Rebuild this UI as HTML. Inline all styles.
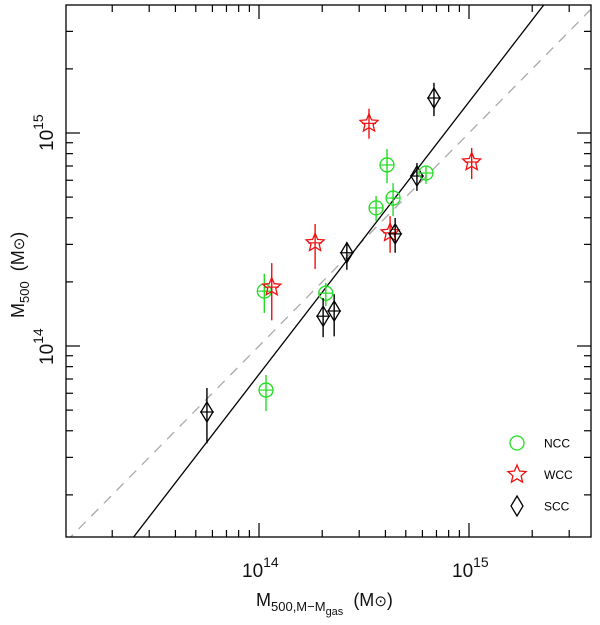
<!DOCTYPE html>
<html><head><meta charset="utf-8">
<style>
html,body{margin:0;padding:0;background:#fff;}
svg{display:block;font-family:"Liberation Sans",sans-serif;}
</style></head>
<body>
<svg id="chart" width="600" height="625" viewBox="0 0 600 625" xmlns="http://www.w3.org/2000/svg">
<g id="marks"></g>
<rect x="66" y="5" width="525" height="532" fill="none" stroke="#000" stroke-width="1.3"/>
<g id="ticks"></g>
<g font-size="19" fill="#111">
<text x="242" y="577">10<tspan font-size="14" dy="-10">14</tspan></text>
<text x="452" y="577">10<tspan font-size="14" dy="-10">15</tspan></text>
</g>
<g font-size="19" fill="#111">
<text transform="translate(53,151) rotate(-90)">10<tspan font-size="14" dy="-10">15</tspan></text>
<text transform="translate(53,365) rotate(-90)">10<tspan font-size="14" dy="-10">14</tspan></text>
</g>
<text x="256" y="606" font-size="18" fill="#111">M<tspan font-size="13" dy="5">500,M−M</tspan><tspan font-size="11" dy="4">gas</tspan><tspan dy="-9" dx="10">(M</tspan><tspan font-size="15">⊙</tspan><tspan>)</tspan></text>
<text transform="translate(24,318) rotate(-90)" font-size="18" fill="#111">M<tspan font-size="13" dy="5">500</tspan><tspan dy="-5" dx="10">(M</tspan><tspan font-size="15">⊙</tspan><tspan>)</tspan></text>
<g id="legend" font-size="12"></g>
</svg>
<script>
// values in units of 1e14 Msun
const categories = ["SCC","WCC","NCC","SCC","NCC","WCC","NCC","NCC","WCC","SCC","WCC","SCC","NCC","WCC","NCC","SCC","SCC","NCC","SCC"];
const xMass = [6.81,3.34,4.07,5.65,6.24,10.3,4.35,3.61,4.21,4.45,1.85,2.62,1.06,1.15,2.08,2.02,2.28,1.08,0.565];
const yMass = [14.6,11.1,7.08,6.28,6.49,7.31,4.95,4.45,3.40,3.36,3.05,2.74,1.81,1.89,1.77,1.38,1.46,0.621,0.490];
const yLow  = [12.0,9.4,5.82,5.35,5.77,6.08,4.07,3.86,2.74,2.74,2.30,2.28,1.43,1.32,1.54,1.10,1.11,0.495,0.349];
const yHigh = [17.2,13.0,8.41,7.23,7.00,8.51,5.82,5.06,4.07,3.99,3.74,3.08,2.18,2.45,1.98,1.68,1.75,0.731,0.635];
const fitSlope = [1.279];
const fitNorm = [0.736];
const legendLabels = ["NCC","WCC","SCC"];

const NS="http://www.w3.org/2000/svg";
const L=66,R=591,T=5,B=537;
const X0=259, XD=210, Y0=346, YD=213;
function xs(v){return X0+Math.log10(v)*XD;}
function ys(v){return Y0-Math.log10(v)*YD;}
function mk(tag,attrs,parent){const e=document.createElementNS(NS,tag);for(const k in attrs)e.setAttribute(k,attrs[k]);parent.appendChild(e);return e;}
const marks=document.getElementById('marks');
const colors={NCC:"#22dd22",WCC:"#ee1111",SCC:"#000"};

const defs=mk('defs',{},marks);
const cp=mk('clipPath',{id:'clip'},defs);
mk('rect',{x:L,y:T,width:R-L,height:B-T},cp);
const g=mk('g',{'clip-path':'url(#clip)'},marks);

const xmin=Math.pow(10,(L-X0)/XD), xmax=Math.pow(10,(R-X0)/XD);
const d1=mk('line',{x1:xs(xmin),y1:ys(xmin),x2:xs(xmax),y2:ys(xmax),stroke:"#aaa","stroke-width":1.3,"stroke-dasharray":"10,8"},g);


const fy=v=>fitNorm[0]*Math.pow(v,fitSlope[0]);
const f1=mk('line',{x1:xs(xmin),y1:ys(fy(xmin)),x2:xs(xmax),y2:ys(fy(xmax)),stroke:"#000","stroke-width":1.3},g);



function starPts(cx,cy,r){let p=[];for(let i=0;i<10;i++){const a=-Math.PI/2+i*Math.PI/5;const rr=i%2?r*0.45:r;p.push((cx+rr*Math.cos(a)).toFixed(1)+","+(cy+rr*Math.sin(a)).toFixed(1));}return p.join(" ");}
function marker(type,cx,cy,parent){
  const c=colors[type];
  if(type==="NCC") mk('circle',{cx,cy,r:7,fill:"none",stroke:c,"stroke-width":1.3},parent);
  else if(type==="WCC") mk('polygon',{points:starPts(cx,cy,9.5),fill:"none",stroke:c,"stroke-width":1.3},parent);
  else mk('polygon',{points:`${cx},${cy-10} ${cx+6},${cy} ${cx},${cy+10} ${cx-6},${cy}`,fill:"none",stroke:c,"stroke-width":1.3},parent);
}
for(let i=0;i<xMass.length;i++){
  const t=categories[i],c=colors[t];
  const pg=mk('g',{},g);
  
  
  const cx=xs(xMass[i]),cy=ys(yMass[i]);
  mk('line',{x1:cx,y1:ys(yLow[i]),x2:cx,y2:ys(yHigh[i]),stroke:c,"stroke-width":1.4},pg);
  mk('line',{x1:cx-7,y1:cy,x2:cx+7,y2:cy,stroke:c,"stroke-width":1.2},pg);
  marker(t,cx,cy,pg);
}

const tg=document.getElementById('ticks');
for(let e=13;e<=15;e++)for(let m=1;m<=9;m++){
  const v=m*Math.pow(10,e-14);
  const x=xs(v);
  if(x>L+1&&x<R-1){const len=m===1?14:7;
    mk('line',{x1:x,y1:B,x2:x,y2:B-len,stroke:"#000","stroke-width":1.2},tg);
    mk('line',{x1:x,y1:T,x2:x,y2:T+len,stroke:"#000","stroke-width":1.2},tg);}
  const y=ys(v);
  if(y>T+1&&y<B-1){const len=m===1?14:7;
    mk('line',{x1:L,y1:y,x2:L+len,y2:y,stroke:"#000","stroke-width":1.2},tg);
    mk('line',{x1:R,y1:y,x2:R-len,y2:y,stroke:"#000","stroke-width":1.2},tg);}
}

const lg=document.getElementById('legend');
legendLabels.forEach((lab,i)=>{
  const y=443+i*31.5;
  const e=mk('g',{},lg);
  
  
  marker(lab,517,y,e);
  const t=mk('text',{x:544,y:y+4.5},e);
  t.textContent=lab;
});
</script>
</body></html>
